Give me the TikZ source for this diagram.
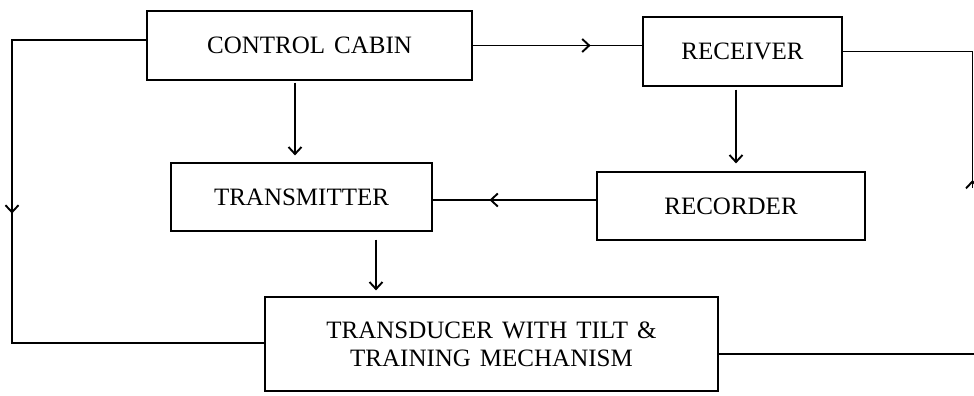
\documentclass[tikz,border=0pt]{standalone}
\usepackage{fontspec}
\setmainfont{Liberation Serif}
\usetikzlibrary{arrows.meta,decorations.markings}
\newcommand\bxfont{\fontsize{25}{28}\selectfont\spaceskip=9pt plus 2pt\relax}
\begin{document}
\begin{tikzpicture}[x=1pt,y=-1pt,
  box/.style={draw, line width=1.2pt, inner sep=0pt, align=center,
    font=\bxfont},
  conn/.style={line width=1.2pt},
  tipend/.style={-{Straight Barb[length=7pt,width=13pt,line width=1.9pt]}},
  midtip/.style={postaction={decorate},
    decoration={markings, mark=at position #1 with
      {\arrow{Straight Barb[length=7pt,width=13pt,line width=1.9pt]}}}}
]
\useasboundingbox (0,0) rectangle (974,396);
\node[box, minimum width=325pt, minimum height=69pt] (cc)  at (309.5,45.5) {CONTROL CABIN};
\node[box, minimum width=199pt, minimum height=69pt] (rec) at (742.5,51.5) {RECEIVER};
\node[box, minimum width=261pt, minimum height=68pt] (tm)  at (301.5,197) {TRANSMITTER};
\node[box, minimum width=268pt, minimum height=68pt] (rcd) at (731,206) {RECORDER};
\node[box, minimum width=453pt, minimum height=94pt] (trd) at (491.5,344)
  {TRANSDUCER WITH TILT \&\\TRAINING MECHANISM};

% control cabin -> receiver
\draw[conn, midtip=118pt] (cc.east) -- (cc.east -| rec.west);
% control cabin -> transmitter
\draw[conn, tipend, shorten <=2pt, shorten >=7pt]
  ([xshift=-14.5pt]cc.south) -- ([xshift=-14.5pt]cc.south |- tm.north);
% receiver -> recorder
\draw[conn, tipend, shorten <=3pt, shorten >=8pt]
  ([xshift=-6.5pt]rec.south) -- ([xshift=-6.5pt]rec.south |- rcd.north);
% recorder -> transmitter
\coordinate (rt) at ([yshift=6pt]rcd.west);
\draw[conn, midtip=107pt] (rt) -- (rt -| tm.east);
% transmitter -> transducer
\draw[conn, tipend, shorten <=8pt, shorten >=6pt]
  ([xshift=74.5pt]tm.south) -- ([xshift=74.5pt]tm.south |- trd.north);
% control cabin -> transducer (left loop)
\coordinate (lt) at (12,40);
\coordinate (lb) at (12,343);
\draw[conn, midtip=308pt] (cc.west |- lt) -- (lt) -- (lb) -- (trd.west |- lb);
% transducer -> receiver (right loop, cropped at edge)
\coordinate (rbot) at (978,354);
\draw[conn] (trd.east |- rbot) -- (rbot);
\coordinate (rarr) at (972.5,188);
\draw[conn, midtip=8pt] (rarr) |- (rec.east);
\end{tikzpicture}
\end{document}
